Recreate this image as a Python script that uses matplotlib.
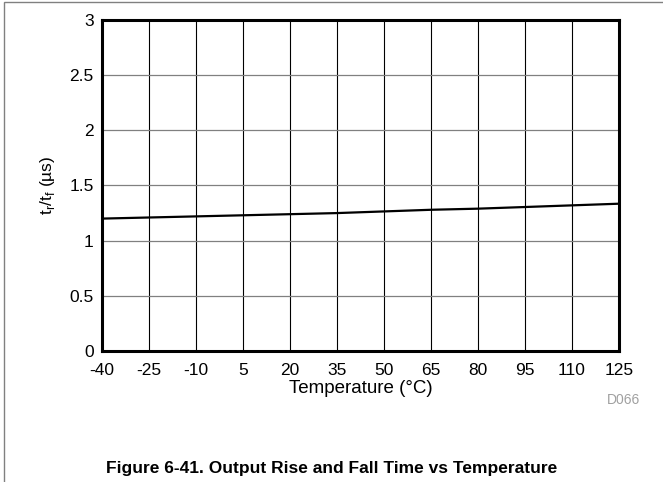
import matplotlib
matplotlib.use("Agg")
from matplotlib import pyplot as plt
from matplotlib.patches import Rectangle

plt.rcParams["font.family"] = ["Liberation Sans", "DejaVu Sans"]
plt.rcParams["axes.unicode_minus"] = False

temperature = [-40, -25, -10, 5, 20, 35, 50, 65, 80, 95, 110, 125]
rise_fall_time = [1.20, 1.21, 1.22, 1.23, 1.24, 1.25, 1.265, 1.28, 1.29, 1.305, 1.32, 1.335]
x_ticks = [-40, -25, -10, 5, 20, 35, 50, 65, 80, 95, 110, 125]
y_ticks = [0, 0.5, 1, 1.5, 2, 2.5, 3]
y_tick_labels = ["0", "0.5", "1", "1.5", "2", "2.5", "3"]

figure = plt.figure(figsize=(6.63, 4.82), dpi=100)
axes = figure.add_axes([0.1538, 0.2718, 0.7798, 0.6867])

axes.plot(temperature, rise_fall_time, color="black", linewidth=1.6, zorder=3)

axes.set_xlim(-40, 125)
axes.set_ylim(0, 3)
axes.set_xticks(x_ticks)
axes.set_yticks(y_ticks)
axes.set_yticklabels(y_tick_labels)
axes.tick_params(length=0, labelsize=12.5)
axes.tick_params(axis="x", pad=9)
axes.tick_params(axis="y", pad=6)

for x in x_ticks[1:-1]:
    axes.axvline(x, color="black", linewidth=0.8, zorder=1)
for y in y_ticks[1:-1]:
    axes.axhline(y, color="#808080", linewidth=0.9, zorder=1)

for spine in axes.spines.values():
    spine.set_linewidth(2.2)
    spine.set_color("black")

axes.set_xlabel("Temperature (°C)", fontsize=13.5, labelpad=1)
axes.set_ylabel("t$_\\mathregular{r}$/t$_\\mathregular{f}$ (µs)", fontsize=12.5, labelpad=9)

figure.text(0.965, 0.17, "D066", fontsize=10, color="#a0a0a0", ha="right", va="center")
figure.text(0.5, 0.019, "Figure 6-41. Output Rise and Fall Time vs Temperature",
            fontsize=12.5, fontweight="bold", ha="center", va="baseline")

figure.patches.append(Rectangle((4 / 663, -0.01), 1.0, 1.0 - 2 / 482 + 0.01, transform=figure.transFigure,
                                fill=False, edgecolor="#808080", linewidth=1.0))

plt.savefig("out.png", dpi=100, facecolor="white")
